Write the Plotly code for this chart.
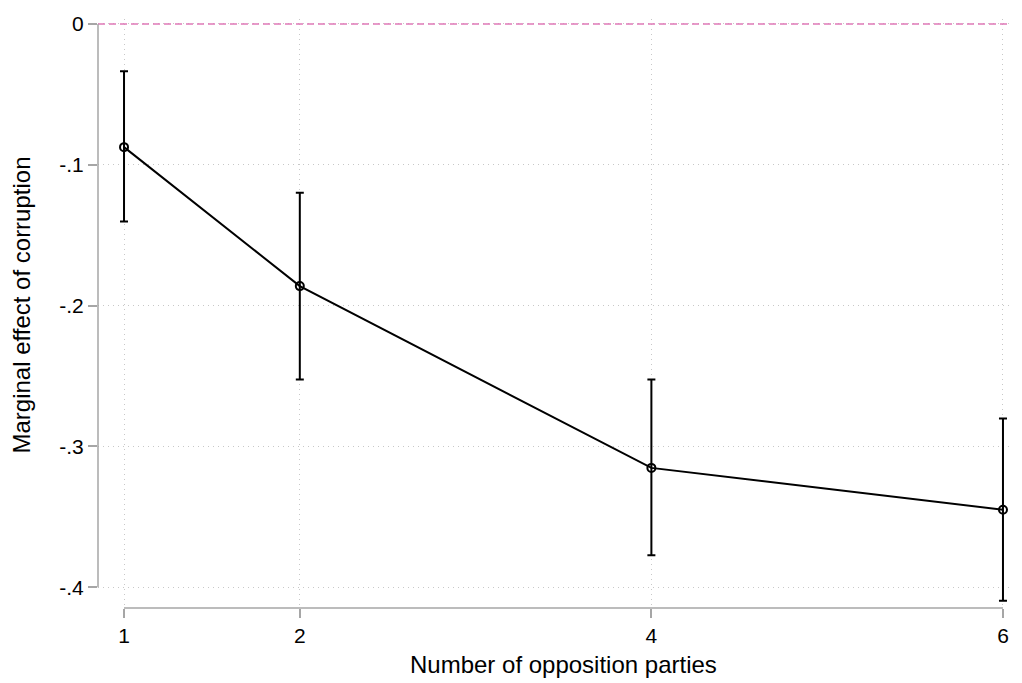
import plotly.graph_objects as go

parties = [1, 2, 4, 6]
effect = [-0.0875, -0.1862, -0.3153, -0.3450]
ci_upper = [-0.0336, -0.1199, -0.2526, -0.2803]
ci_lower = [-0.1404, -0.2526, -0.3774, -0.4097]
ytick_vals = [0, -0.1, -0.2, -0.3, -0.4]
ytick_text = ["0", "-.1", "-.2", "-.3", "-.4"]
xtick_vals = [1, 2, 4, 6]
x_title = "Number of opposition parties"
y_title = "Marginal effect of corruption"

err_plus = [u - e for u, e in zip(ci_upper, effect)]
err_minus = [e - l for e, l in zip(effect, ci_lower)]

FONT = "Liberation Sans, Arial, sans-serif"
AXIS_GRAY = "#a6a6a6"
GRID = "#c8c8c8"

fig = go.Figure()
fig.add_trace(go.Scatter(
    x=parties, y=effect, mode="lines+markers",
    line=dict(color="black", width=2),
    marker=dict(symbol="circle-open", size=8, color="black", line=dict(width=2)),
    error_y=dict(type="data", symmetric=False, array=err_plus, arrayminus=err_minus,
                 color="black", thickness=2, width=4),
    showlegend=False,
))

xr = [0.852, 6.04]
yr = [-0.4148, 0.0035]

# zero reference line
fig.add_shape(type="line", xref="paper", yref="y", x0=0, x1=1, y0=0, y1=0,
              line=dict(color="#e07ab8", width=1.5, dash="7px,4px"))
# Stata-style axis lines spanning the tick range
fig.add_shape(type="line", xref="paper", yref="y", x0=0, x1=0, y0=-0.4, y1=0,
              line=dict(color=AXIS_GRAY, width=1.5))
fig.add_shape(type="line", xref="x", yref="paper", x0=1, x1=6, y0=0, y1=0,
              line=dict(color=AXIS_GRAY, width=1.5))

# axis titles centred on the axis spans
fig.add_annotation(text=x_title, x=3.5, xref="x", y=0, yref="paper",
                   yanchor="middle", xanchor="center", yshift=-56, showarrow=False,
                   font=dict(size=24))
fig.add_annotation(text=y_title, x=0, xref="paper", y=-0.2, yref="y",
                   xanchor="center", yanchor="middle", xshift=-76, textangle=-90,
                   showarrow=False, font=dict(size=24))

# page body has an 8px margin; figure margins compensate
fig.update_layout(
    width=1006, height=675,
    margin=dict(l=90, r=4, t=7, b=75),
    paper_bgcolor="white", plot_bgcolor="white",
    font=dict(family=FONT, size=21, color="black"),
    xaxis=dict(range=xr, tickvals=xtick_vals, ticks="outside", ticklen=9,
               tickcolor=AXIS_GRAY, tickwidth=1.5, showline=False, zeroline=False,
               showgrid=True, gridcolor=GRID, griddash="1px,4px", gridwidth=1,
               tickfont=dict(size=21)),
    yaxis=dict(range=yr, tickvals=ytick_vals, ticktext=ytick_text, ticks="outside", ticklen=9,
               tickcolor=AXIS_GRAY, tickwidth=1.5, showline=False, zeroline=False,
               showgrid=True, gridcolor=GRID, griddash="1px,4px", gridwidth=1,
               tickfont=dict(size=21), ticklabeloverflow="allow"),
)

fig.write_html("out.html")
